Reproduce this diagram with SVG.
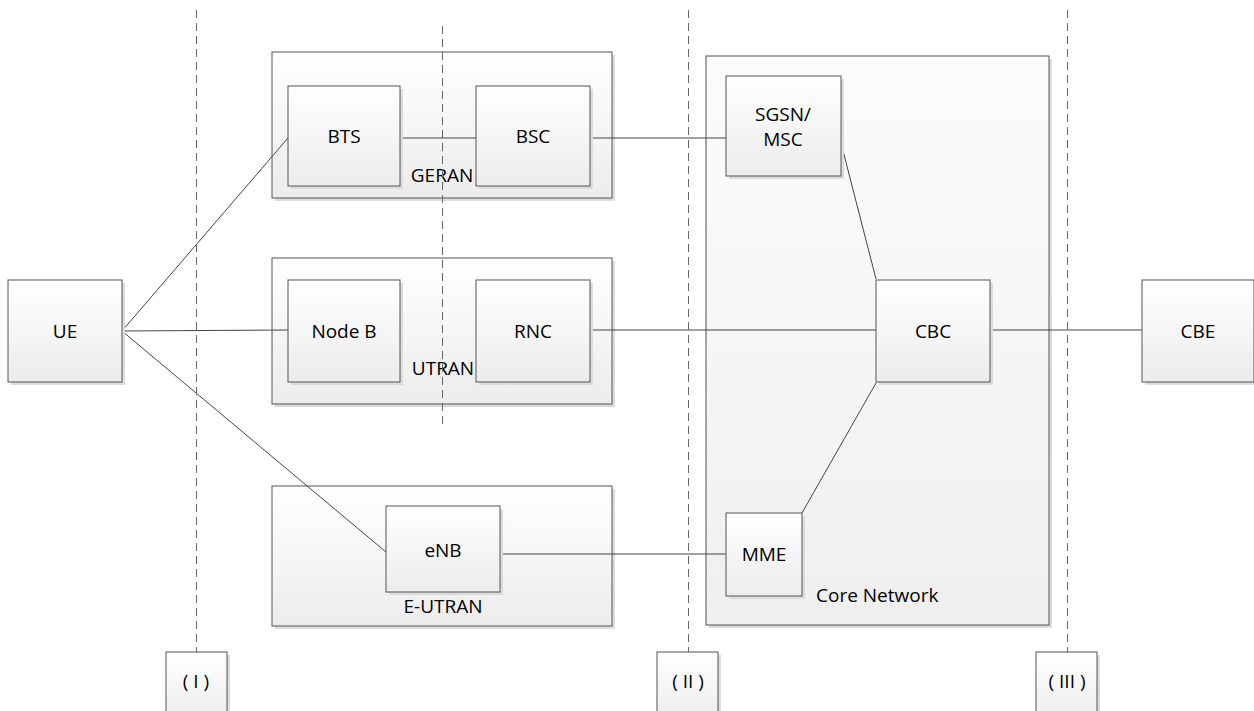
<svg xmlns="http://www.w3.org/2000/svg" width="1254" height="711" viewBox="0 0 1254 711">
<defs>
<linearGradient id="g" x1="0" y1="0" x2="0" y2="1">
<stop offset="0" stop-color="#ffffff"/>
<stop offset="1" stop-color="#ececec"/>
</linearGradient>
<linearGradient id="gc" x1="0" y1="0" x2="0" y2="1">
<stop offset="0" stop-color="#fcfcfc"/>
<stop offset="1" stop-color="#efefef"/>
</linearGradient>
</defs>
<style>
.sh{fill:#dcdcdc}
.bx{fill:url(#g);stroke:#555;stroke-width:1}
.cn{fill:url(#gc);stroke:#555;stroke-width:1}
.t{font-family:"Open Sans","Liberation Sans",sans-serif;font-size:19px;fill:#000;text-anchor:middle}
.c{stroke:#444;stroke-width:1;fill:none}
.d{stroke:#666;stroke-width:1;stroke-dasharray:8 5;fill:none}
</style>
<rect width="1254" height="711" fill="#fff"/>

<g id="GERAN">
<rect class="sh" x="275" y="55" width="340" height="146"/>
<rect class="bx" x="272" y="52" width="340" height="146"/>
<text class="t" x="442" y="182">GERAN</text>
</g>
<g id="UTRAN">
<rect class="sh" x="275" y="261" width="340" height="146"/>
<rect class="bx" x="272" y="258" width="340" height="146"/>
<text class="t" x="443" y="375">UTRAN</text>
</g>
<g id="E-UTRAN">
<rect class="sh" x="275" y="489" width="340" height="140"/>
<rect class="bx" x="272" y="486" width="340" height="140"/>
<text class="t" x="443" y="613">E-UTRAN</text>
</g>
<g id="CoreNetwork">
<rect class="sh" x="709" y="59" width="343" height="569"/>
<rect class="cn" x="706" y="56" width="343" height="569"/>
<text class="t" x="816" y="602" style="text-anchor:start">Core Network</text>
</g>

<g id="connectors">
<line class="c" x1="122" y1="331" x2="288" y2="138"/>
<line class="c" x1="122" y1="331" x2="288" y2="330"/>
<line class="c" x1="122" y1="331" x2="386" y2="552"/>
<line class="c" x1="400" y1="138" x2="476" y2="138"/>
<line class="c" x1="590" y1="138" x2="726" y2="138"/>
<line class="c" x1="590" y1="330" x2="876" y2="330"/>
<line class="c" x1="500" y1="554" x2="726" y2="554"/>
<line class="c" x1="840" y1="139" x2="876" y2="279"/>
<line class="c" x1="802" y1="513" x2="876" y2="383"/>
<line class="c" x1="990" y1="330" x2="1142" y2="330"/>
</g>

<g id="UE">
<rect class="sh" x="11" y="283" width="114" height="102"/>
<rect class="bx" x="8" y="280" width="114" height="102"/>
<text class="t" x="65" y="338">UE</text>
</g>
<g id="BTS">
<rect class="sh" x="291" y="89" width="112" height="100"/>
<rect class="bx" x="288" y="86" width="112" height="100"/>
<text class="t" x="344" y="143">BTS</text>
</g>
<g id="BSC">
<rect class="sh" x="479" y="89" width="114" height="100"/>
<rect class="bx" x="476" y="86" width="114" height="100"/>
<text class="t" x="533" y="143">BSC</text>
</g>
<g id="NodeB">
<rect class="sh" x="291" y="283" width="112" height="102"/>
<rect class="bx" x="288" y="280" width="112" height="102"/>
<text class="t" x="344" y="338">Node B</text>
</g>
<g id="RNC">
<rect class="sh" x="479" y="283" width="114" height="102"/>
<rect class="bx" x="476" y="280" width="114" height="102"/>
<text class="t" x="533" y="338">RNC</text>
</g>
<g id="eNB">
<rect class="sh" x="389" y="509" width="114" height="86"/>
<rect class="bx" x="386" y="506" width="114" height="86"/>
<text class="t" x="443" y="557">eNB</text>
</g>
<g id="SGSN-MSC">
<rect class="sh" x="729" y="79" width="115" height="100"/>
<rect class="bx" x="726" y="76" width="115" height="100"/>
<text class="t" x="783" y="121">SGSN/</text>
<text class="t" x="783" y="146">MSC</text>
</g>
<g id="MME">
<rect class="sh" x="729" y="516" width="76" height="83"/>
<rect class="bx" x="726" y="513" width="76" height="83"/>
<text class="t" x="764" y="561">MME</text>
</g>
<g id="CBC">
<rect class="sh" x="879" y="283" width="114" height="102"/>
<rect class="bx" x="876" y="280" width="114" height="102"/>
<text class="t" x="933" y="338">CBC</text>
</g>
<g id="CBE">
<rect class="sh" x="1145" y="283" width="112" height="102"/>
<rect class="bx" x="1142" y="280" width="112" height="102"/>
<text class="t" x="1198" y="338">CBE</text>
</g>

<g id="dashed">
<line class="d" x1="196.5" y1="10" x2="196.5" y2="652"/>
<line class="d" x1="442.5" y1="26" x2="442.5" y2="426"/>
<line class="d" x1="688.5" y1="10" x2="688.5" y2="652"/>
<line class="d" x1="1067.5" y1="10" x2="1067.5" y2="652"/>
</g>

<g id="ref-I">
<rect class="sh" x="169" y="655" width="61" height="70"/>
<rect class="bx" x="166" y="652" width="61" height="70"/>
<text class="t" x="196" y="688">( I )</text>
</g>
<g id="ref-II">
<rect class="sh" x="660" y="655" width="61" height="70"/>
<rect class="bx" x="657" y="652" width="61" height="70"/>
<text class="t" x="688" y="688">( II )</text>
</g>
<g id="ref-III">
<rect class="sh" x="1039" y="655" width="61" height="70"/>
<rect class="bx" x="1036" y="652" width="61" height="70"/>
<text class="t" x="1067" y="688">( III )</text>
</g>
</svg>
